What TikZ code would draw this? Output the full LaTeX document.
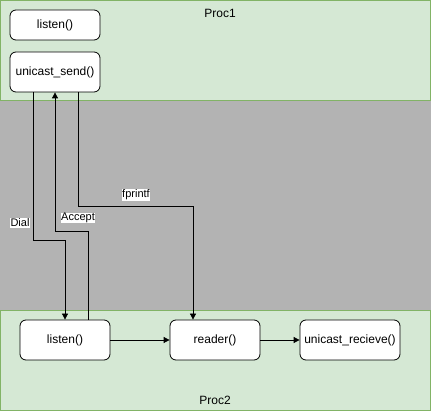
\documentclass[tikz,border=0pt]{standalone}
\usepackage{fontspec}
\setmainfont{Liberation Sans}
\usetikzlibrary{arrows.meta}
\definecolor{grn}{HTML}{D5E8D4}
\definecolor{grnline}{HTML}{82B366}
\definecolor{bg}{HTML}{B3B3B3}
\tikzset{
  x=1pt, y=-1pt,
  container/.style={draw=grnline, fill=grn, line width=1pt},
  func/.style={draw=black, fill=white, rounded corners=6pt, line width=0.8pt,
    font=\fontsize{12}{14}\selectfont, inner sep=0pt, minimum width=90pt, minimum height=#1},
  func/.default=40pt,
  title/.style={font=\fontsize{12}{14}\selectfont, inner sep=0pt},
  conn/.style={draw=black, line width=0.8pt, -{Triangle[length=6pt,width=6pt]}},
  lbl/.style={fill=white, inner sep=0.5pt, font=\fontsize{11}{13}\selectfont}
}
\begin{document}
\begin{tikzpicture}
\useasboundingbox (0,0) rectangle (431,411);
\fill[bg] (0,0) rectangle (431,411);
\draw[container] (0.5,0.5) rectangle (430.5,100.5);
\draw[container] (0.5,310.5) rectangle (430.5,410.5);
\node[title] (p1) at (220,13) {Proc1};
\node[title] (p2) at (215,400) {Proc2};
% nodes
\node[func=30pt] (listen1) at (55,25) {listen()};
\node[func] (send) at (55,72) {unicast\_send()};
\node[func] (listen2) at (65,340) {listen()};
\node[func] (reader) at (215,340) {reader()};
\node[func, minimum width=100pt] (recv) at (350,340) {unicast\_recieve()};
% connectors
\draw[conn] ([xshift=-22pt]send.south) |- (65,240) -- (listen2.north);
\draw[conn] ([xshift=23pt]listen2.north) |- (55,231) -- (send.south);
\draw[conn] ([xshift=23pt]send.south) |- (193,206) -- ([xshift=-22pt]reader.north);
\draw[conn] (listen2.east) -- (reader.west);
\draw[conn] (reader.east) -- (recv.west);
\node[lbl] (dial) at (20,223) {Dial};
\node[lbl] (acc) at (78,218) {Accept};
\node[lbl] (fpr) at (136,195) {fprintf};
\end{tikzpicture}
\end{document}
